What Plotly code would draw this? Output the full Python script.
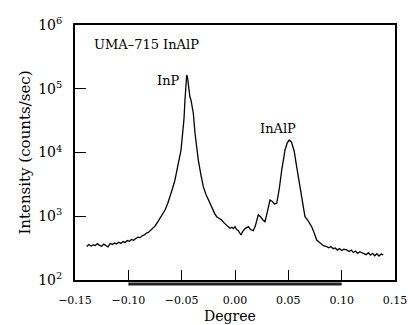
import plotly.graph_objects as go

# Scan data (degree, counts/sec)
degree = [-0.139, -0.137, -0.135, -0.133, -0.131, -0.129, -0.127, -0.125, -0.123, -0.121,
          -0.119, -0.117, -0.115, -0.113, -0.111, -0.109, -0.107, -0.105, -0.103, -0.101,
          -0.099, -0.097, -0.095, -0.093, -0.091, -0.089, -0.087, -0.085, -0.083, -0.081,
          -0.079, -0.077, -0.075, -0.073, -0.0703, -0.068, -0.0656, -0.063, -0.0609, -0.0585,
          -0.0563, -0.0545, -0.0532, -0.0518, -0.0506, -0.049, -0.0478, -0.0469, -0.046, -0.0453,
          -0.0445, -0.0435, -0.0423, -0.0413, -0.0402, -0.0391, -0.0375, -0.036, -0.0344, -0.032,
          -0.0297, -0.0275, -0.025, -0.023, -0.021, -0.019, -0.0172, -0.015, -0.0125, -0.010,
          -0.008, -0.0065, -0.0047, -0.003, -0.0015, 0.0, 0.0015, 0.003, 0.0056, 0.0075,
          0.0095, 0.0125, 0.0145, 0.0172, 0.019, 0.0218, 0.024, 0.026, 0.0281, 0.0305,
          0.0328, 0.035, 0.037, 0.0391, 0.0415, 0.0438, 0.0469, 0.049, 0.0509, 0.053,
          0.0555, 0.0578, 0.060, 0.0625, 0.0645, 0.0656, 0.068, 0.0719, 0.074, 0.0766,
          0.079, 0.081, 0.083, 0.0859, 0.088, 0.090, 0.092, 0.094, 0.096, 0.098,
          0.100, 0.102, 0.1047, 0.107, 0.109, 0.111, 0.113, 0.115, 0.117, 0.1203,
          0.123, 0.125, 0.127, 0.129, 0.131, 0.133, 0.135, 0.137, 0.139]
intensity = [335, 360, 342, 355, 348, 372, 350, 338, 365, 352,
             330, 375, 360, 382, 368, 392, 375, 400, 388, 415,
             405, 432, 420, 448, 470, 462, 495, 510, 545, 560,
             600, 655, 700, 790, 940, 1080, 1254, 1600, 2027, 2750,
             3706, 5000, 6840, 8700, 10940, 20000, 34000, 66600, 120000, 164000,
             150000, 100000, 75000, 66600, 55000, 41700, 20200, 12000, 7620, 4500,
             2911, 2250, 1800, 1500, 1250, 1100, 984, 940, 873, 780,
             720, 690, 647, 670, 640, 686, 620, 600, 508, 590,
             640, 686, 620, 593, 700, 1047, 980, 880, 821, 1200,
             1800, 1700, 1560, 1596, 2700, 5310, 10940, 14200, 15700, 14500,
             10500, 5990, 3500, 2027, 1300, 984, 880, 686, 560, 424,
             390, 365, 345, 333, 320, 335, 310, 318, 295, 312,
             290, 305, 296, 280, 295, 270, 285, 262, 278, 262,
             250, 268, 245, 262, 240, 258, 238, 255, 247]

x_ticks = [-0.15, -0.10, -0.05, 0.00, 0.05, 0.10, 0.15]
x_ticktext = ["\u22120.15", "\u22120.10", "\u22120.05", "0.00", "0.05", "0.10", "0.15"]
y_ticks = [1e2, 1e3, 1e4, 1e5, 1e6]
y_ticktext = ["10<sup>2</sup>", "10<sup>3</sup>", "10<sup>4</sup>", "10<sup>5</sup>", "10<sup>6</sup>"]
underline_range = [-0.10, 0.10]

FONT = "DejaVu Serif"

fig = go.Figure()
fig.add_trace(go.Scatter(x=degree, y=intensity, mode="lines",
                         line=dict(color="black", width=1.3), showlegend=False))

fig.add_annotation(x=-0.134, y=5.70, text="UMA\u2013715 InAlP", showarrow=False,
                   xanchor="left", yanchor="middle", font=dict(family=FONT, size=13, color="black"))
fig.add_annotation(x=-0.0497, y=5.137, text="InP", showarrow=False,
                   xanchor="right", yanchor="middle", font=dict(family=FONT, size=13, color="black"))
fig.add_annotation(x=0.0403, y=4.384, text="InAlP", showarrow=False,
                   xanchor="center", yanchor="middle", font=dict(family=FONT, size=13, color="black"))
# x-axis title
fig.add_annotation(xref="paper", yref="paper", x=0.484, y=-0.142, text="Degree", showarrow=False,
                   xanchor="center", yanchor="middle", font=dict(family=FONT, size=14, color="black"))

fig.add_shape(type="line", xref="x", yref="paper",
              x0=underline_range[0], x1=underline_range[1], y0=-0.016, y1=-0.016,
              line=dict(color="#222", width=3))

fig.update_layout(
    width=408, height=325,
    margin=dict(l=75, r=13, t=25, b=45),
    paper_bgcolor="white", plot_bgcolor="white",
    font=dict(family=FONT, color="black"),
)
fig.update_xaxes(range=[-0.15, 0.15], tickvals=x_ticks, ticktext=x_ticktext, automargin=False,
                 ticks="inside", ticklen=10, tickwidth=1.2, tickcolor="black",
                 showline=True, linecolor="black", linewidth=2, mirror=True,
                 showgrid=False, zeroline=False,
                 tickfont=dict(family=FONT, size=11), ticklabelstandoff=9)
fig.update_yaxes(type="log", range=[2, 6], tickvals=y_ticks, ticktext=y_ticktext, automargin=False,
                 ticks="inside", ticklen=11, tickwidth=1.2, tickcolor="black",
                 showline=True, linecolor="black", linewidth=2, mirror=True,
                 showgrid=False, zeroline=False,
                 tickfont=dict(family=FONT, size=14), ticklabelstandoff=8,
                 title=dict(text="Intensity (counts/sec)", font=dict(family=FONT, size=15), standoff=4))

fig.write_html("out.html")
